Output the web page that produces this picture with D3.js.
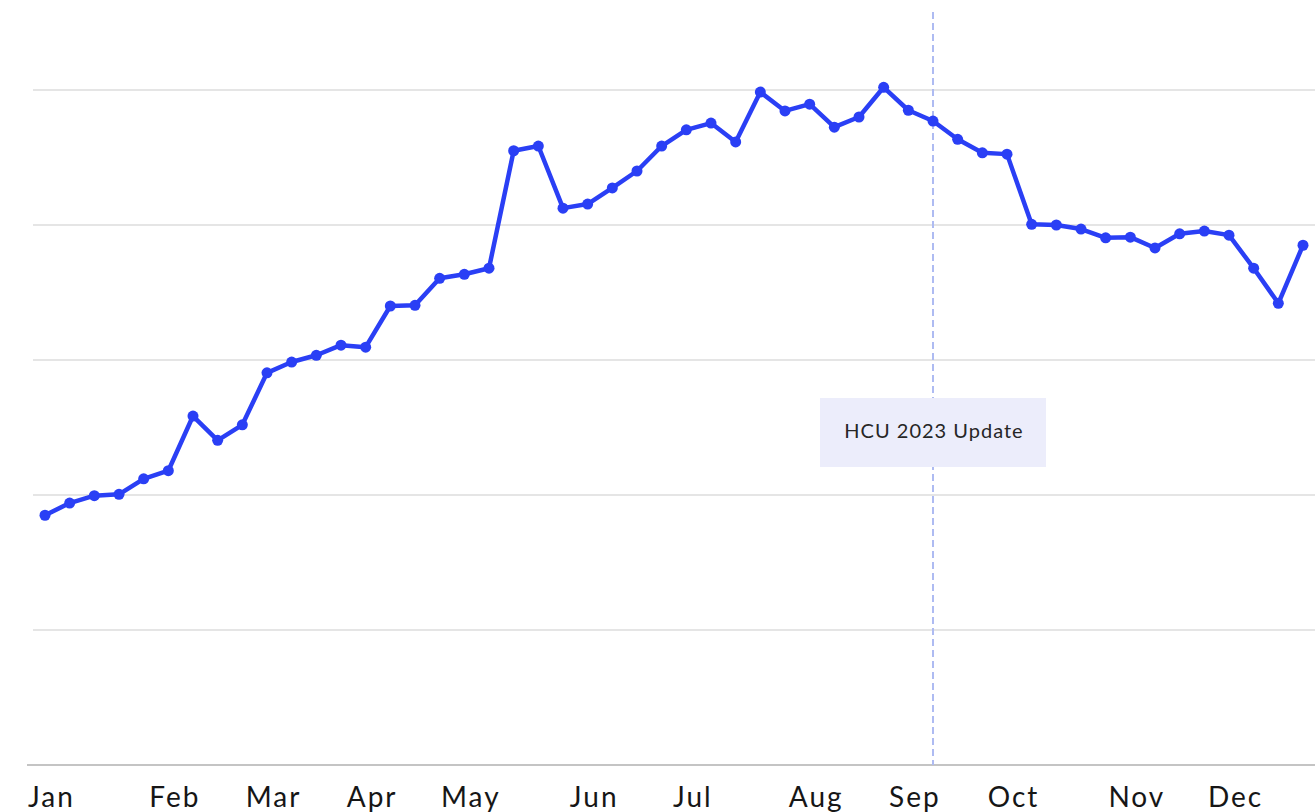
<!DOCTYPE html>
<html>
  <head>
	<title>HCU 2023 Update</title>
	<script src="https://d3js.org/d3.v7.min.js"></script>
	<style>
		body { margin: 0; background: #fff; }
		#chart { display: block; }
	</style>
  </head>
  <body>
	<svg id="chart"></svg>
    <script type="text/javascript">
		// weekly values (0-100 index)
		var weeklyValues = [
			37.0, 38.8, 39.9, 40.1, 42.4, 43.6, 51.7, 48.1, 50.4, 58.1,
			59.7, 60.7, 62.2, 61.9, 68.0, 68.1, 72.1, 72.7, 73.6, 91.0,
			91.7, 82.5, 83.1, 85.5, 88.0, 91.7, 94.1, 95.1, 92.3, 99.7,
			96.9, 97.9, 94.5, 96.0, 100.4, 97.0, 95.4, 92.7, 90.7, 90.5,
			80.1, 80.0, 79.4, 78.1, 78.2, 76.6, 78.7, 79.1, 78.5, 73.6,
			68.4, 77.0
		];
		var monthLabels = ["Jan", "Feb", "Mar", "Apr", "May", "Jun", "Jul", "Aug", "Sep", "Oct", "Nov", "Dec"];
		var monthWeeks = [0, 5, 9, 13, 17, 22, 26, 31, 35, 39, 44, 48];
		var gridValues = [0, 20, 40, 60, 80, 100];
		var updateWeek = 36;
		var updateLabel = "HCU 2023 Update";

		const width = 1315, height = 812;
		var margin = {top: 90, bottom: 47, left: 45, right: 12};

		var svg = d3.select("#chart")
			.attr("width", width)
			.attr("height", height);

		var xScale = d3.scaleLinear()
			.domain([0, weeklyValues.length - 1])
			.range([margin.left, width - margin.right]);

		var yScale = d3.scaleLinear()
			.domain([0, 100])
			.range([height - margin.bottom, margin.top]);

		//Horizontal gridlines
		svg.append("g")
			.attr("class", "grid")
		  .selectAll("line")
		  .data(gridValues.filter(function(d) { return d > 0; }))
		  .enter().append("line")
			.attr("x1", 33)
			.attr("x2", width)
			.attr("y1", function(d) { return yScale(d); })
			.attr("y2", function(d) { return yScale(d); })
			.attr("stroke", "#dcdcdc")
			.attr("stroke-width", 1.5);

		//Bottom axis with month labels
		var xAxis = d3.axisBottom(xScale)
			.tickValues(monthWeeks)
			.tickSize(0)
			.tickPadding(22)
			.tickFormat(function(d, i) { return monthLabels[i]; });

		var axisG = svg.append("g")
			.attr("class", "axis")
			.attr("transform", "translate(0," + yScale(0) + ")")
			.call(xAxis);
		axisG.select(".domain").remove();
		axisG.append("line")
			.attr("x1", 27)
			.attr("x2", width)
			.attr("stroke", "#c4c4c4")
			.attr("stroke-width", 2);
		axisG.selectAll(".tick text")
			.attr("dx", 6)
			.attr("fill", "#161616")
			.attr("font-family", "Lato, 'Open Sans', sans-serif")
			.attr("font-size", 28)
			.attr("letter-spacing", 2);

		//Dashed marker for the update
		svg.append("line")
			.attr("x1", xScale(updateWeek))
			.attr("x2", xScale(updateWeek))
			.attr("y1", 12)
			.attr("y2", yScale(0))
			.attr("stroke", "#aebbf2")
			.attr("stroke-width", 2)
			.attr("stroke-dasharray", "7,4");

		//The line
		var line = d3.line()
			.x(function(d, i) { return xScale(i); })
			.y(function(d) { return yScale(d); });

		svg.append("path")
			.datum(weeklyValues)
			.attr("fill", "none")
			.attr("stroke", "#2a3ff5")
			.attr("stroke-width", 4.5)
			.attr("stroke-linejoin", "round")
			.attr("d", line);

		svg.append("g")
		  .selectAll("circle")
		  .data(weeklyValues)
		  .enter().append("circle")
			.attr("cx", function(d, i) { return xScale(i); })
			.attr("cy", function(d) { return yScale(d); })
			.attr("r", 5.5)
			.attr("fill", "#2a3ff5");

		//Annotation box
		var boxW = 226, boxH = 69;
		var note = svg.append("g")
			.attr("transform", "translate(" + (xScale(updateWeek) - boxW / 2) + "," + 398 + ")");
		note.append("rect")
			.attr("width", boxW)
			.attr("height", boxH)
			.attr("fill", "#ecedfb");
		note.append("text")
			.attr("x", boxW / 2 + 1)
			.attr("y", 40)
			.attr("text-anchor", "middle")
			.attr("fill", "#262626")
			.attr("font-family", "Lato, 'Open Sans', sans-serif")
			.attr("font-size", 20)
			.attr("letter-spacing", 1)
			.text(updateLabel);
	</script>
  </body>
</html>
